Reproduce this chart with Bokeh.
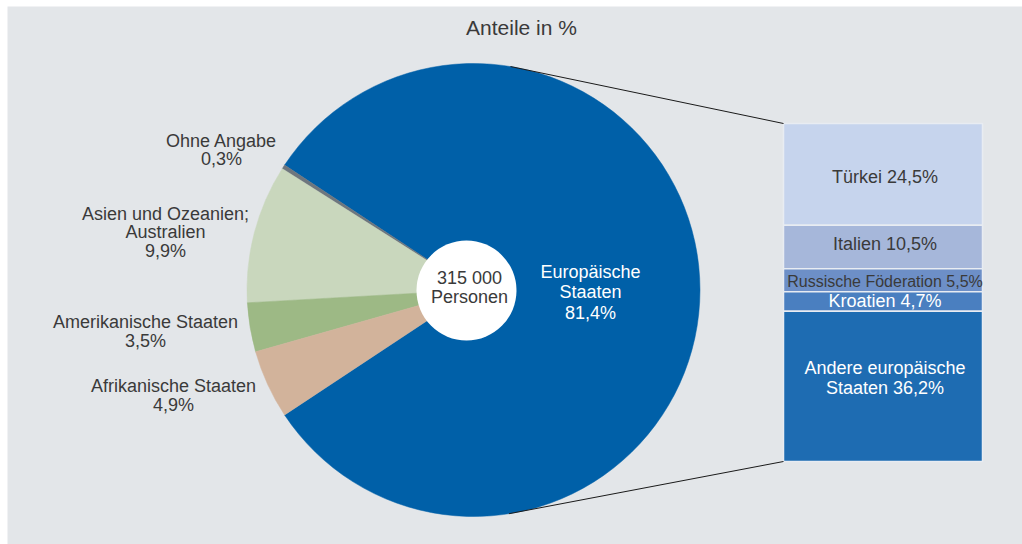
import numpy as np
from bokeh.plotting import figure
from bokeh.models import Range1d
from bokeh.core.properties import value
from bokeh.embed import file_html
from bokeh.resources import INLINE

# ---------------- data ----------------
title_text = "Anteile in %"
pie_categories = ["Europäische Staaten", "Ohne Angabe", "Asien und Ozeanien; Australien",
                  "Amerikanische Staaten", "Afrikanische Staaten"]
pie_values = [81.4, 0.3, 9.9, 3.5, 4.9]
pie_colors = ["#0060a8", "#6e767e", "#c9d7bd", "#9db985", "#d2b39b"]
total_persons = "315 000"

bar_categories = ["Türkei", "Italien", "Russische Föderation", "Kroatien", "Andere europäische Staaten"]
bar_values = [24.5, 10.5, 5.5, 4.7, 36.2]
bar_colors = ["#c6d4ed", "#a6b7da", "#6d8fc7", "#4a7fc0", "#1e6cb2"]

def pct(v):
    return f"{v:.1f}".replace(".", ",") + "%"

# ---------------- layout ----------------
W, H = 1022, 544
FONT = value("Liberation Sans")
DARK = "#3a3a3a"

def Y(ys):
    return H - ys

p = figure(width=W, height=H, output_backend="svg", toolbar_location=None,
           x_range=Range1d(0, W), y_range=Range1d(0, H), min_border=0)
p.axis.visible = False
p.grid.visible = False
p.outline_line_color = None
p.background_fill_color = "white"
p.border_fill_color = "white"

# grey panel
p.quad(left=[7], right=[W], bottom=[0], top=[Y(6)], fill_color="#e3e6e9", line_color=None)

# pie
cx, cy, r = 473, Y(289.5), 226.5
vals = np.array(pie_values, dtype=float)
frac = vals / vals.sum()
offset = -np.pi * frac[0]
cum = np.concatenate([[0], np.cumsum(frac)])
starts = offset + 2 * np.pi * cum[:-1]
ends = offset + 2 * np.pi * cum[1:]
p.wedge(x=[cx] * len(vals), y=[cy] * len(vals), radius=r,
        start_angle=list(starts), end_angle=list(ends),
        fill_color=pie_colors, line_color=pie_colors, line_width=0.5)

# inner circle
p.circle(x=[466], y=[Y(290)], radius=50, fill_color="white", line_color=None)

# stacked bar of the European part
bx0, bx1 = 783, 982
btop, bbot = Y(123), Y(461)
bv = np.array(bar_values, dtype=float)
scale = (btop - bbot) / bv.sum()
tops = btop - scale * np.concatenate([[0], np.cumsum(bv)[:-1]])
bots = btop - scale * np.cumsum(bv)
p.quad(left=[bx0] * len(bv), right=[bx1] * len(bv), top=list(tops), bottom=list(bots),
       fill_color=bar_colors, line_color="#e8ecf2", line_width=1.5)

# connector lines
a_top, a_bot = np.deg2rad(80.6), np.deg2rad(-81)
p.segment(x0=[cx + r * np.cos(a_top), cx + r * np.cos(a_bot)],
          y0=[cy + r * np.sin(a_top), cy + r * np.sin(a_bot)],
          x1=[bx0, bx0], y1=[btop, bbot], line_color="#1a1a1a", line_width=1)

def lines(x, ys_list, texts, size, color):
    p.text(x=[x] * len(texts), y=[Y(v) for v in ys_list], text=texts,
           text_font=FONT, text_font_size=size, text_color=color,
           text_align="center", text_baseline="middle")

# title
lines(521, [27], [title_text], "21px", DARK)

# left labels
lines(221, [140, 158], ["Ohne Angabe", pct(pie_values[1])], "18px", DARK)
lines(165, [213, 231, 250], ["Asien und Ozeanien;", "Australien", pct(pie_values[2])], "18px", DARK)
lines(145, [321, 340], ["Amerikanische Staaten", pct(pie_values[3])], "18px", DARK)
lines(173, [385, 404], ["Afrikanische Staaten", pct(pie_values[4])], "18px", DARK)

# europe label
lines(590, [271, 291, 312], ["Europäische", "Staaten", pct(pie_values[0])], "18px", "white")
# center
lines(469, [277, 296], [total_persons, "Personen"], "18px", DARK)

# bar labels
bxc = (bx0 + bx1) / 2 + 2
mids = [H - (t + b) / 2 for t, b in zip(tops, bots)]
lines(bxc, [mids[0] + 3], [f"{bar_categories[0]} {pct(bar_values[0])}"], "18px", DARK)
lines(bxc, [mids[1] - 3], [f"{bar_categories[1]} {pct(bar_values[1])}"], "18px", DARK)
lines(bxc, [mids[2] + 1], [f"{bar_categories[2]} {pct(bar_values[2])}"], "16px", DARK)
lines(bxc, [mids[3]], [f"{bar_categories[3]} {pct(bar_values[3])}"], "18px", "white")
lines(bxc, [mids[4] - 18.5, mids[4] + 1.5], ["Andere europäische", f"Staaten {pct(bar_values[4])}"], "18px", "white")

open("out.html", "w").write(file_html(p, INLINE))
